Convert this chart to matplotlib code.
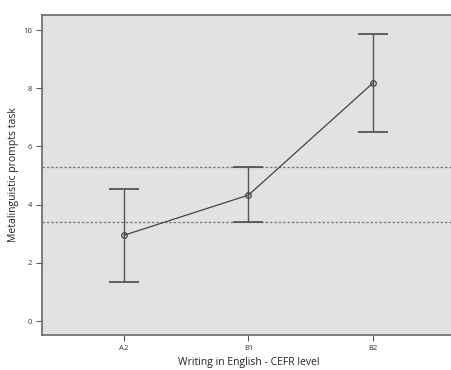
import matplotlib.pyplot as plt
import numpy as np

plt.rcParams['font.family'] = ['Open Sans', 'DejaVu Sans']

# CEFR writing level groups and task score summaries
levels = ['A2', 'B1', 'B2']
means = [2.95, 4.33, 8.18]
ci_low = [1.34, 3.40, 6.49]
ci_high = [4.55, 5.29, 9.86]
y_ticks = [0, 2, 4, 6, 8, 10]

x = np.arange(len(levels))
means = np.array(means)
err = [means - np.array(ci_low), np.array(ci_high) - means]

fig = plt.figure(figsize=(4.51, 3.70), dpi=100)
ax = fig.add_axes([42 / 451, 35 / 370, 413 / 451, 320 / 370])
ax.set_facecolor('#e2e2e4')

# reference lines at the middle group's interval bounds
ax.axhline(ci_high[1], color='#777777', lw=0.9, ls=(0, (2, 1.5)), zorder=1)
ax.axhline(ci_low[1], color='#777777', lw=0.9, ls=(0, (2, 1.5)), zorder=1)

ax.errorbar(x, means, yerr=err, fmt='none', ecolor='#555555', elinewidth=1.0,
            capsize=10.5, capthick=1.3, zorder=2)
ax.plot(x, means, color='#444444', lw=0.9, marker='o', ms=4,
        mfc='none', mec='#444444', mew=0.9, zorder=3)

ax.set_xlim(-0.66, 2.66)
ax.set_ylim(-0.48, 10.52)
ax.set_xticks(x)
ax.set_xticklabels(levels)
ax.set_yticks(y_ticks)
ax.tick_params(axis='both', labelsize=5.5, length=4.5, width=0.8, colors='#555555',
               labelcolor='#333333', pad=2.5)

for side in ['left', 'bottom', 'top']:
    ax.spines[side].set_color('#666666')
    ax.spines[side].set_linewidth(1.2)
ax.spines['right'].set_visible(False)

ax.set_xlabel('Writing in English - CEFR level', fontsize=7.5, color='#222222', labelpad=4)
ax.set_ylabel('Metalinguistic prompts task', fontsize=7.5, color='#222222', labelpad=3)

fig.savefig('out.png', dpi=100)
